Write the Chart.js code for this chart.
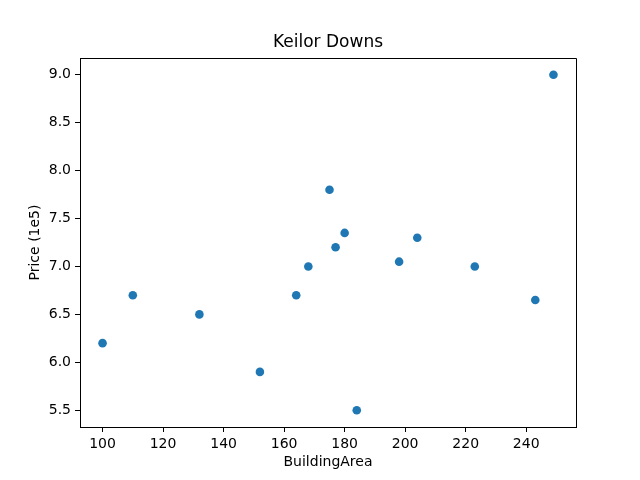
<!DOCTYPE html>
<html>
<head>
<meta charset="utf-8">
<script src="https://cdn.jsdelivr.net/npm/chart.js@4"></script>
<style>
  html, body { margin: 0; padding: 0; background: #fff; }
  #wrap { width: 640px; height: 480px; }
</style>
</head>
<body>
<div id="wrap"><canvas id="chart" width="640" height="480"></canvas></div>
<script>
// data
const buildingArea = [100, 110, 132, 152, 164, 168, 175, 177, 180, 184, 198, 204, 223, 243, 249];
const price = [6.2, 6.7, 6.5, 5.9, 6.7, 7.0, 7.8, 7.2, 7.35, 5.5, 7.05, 7.3, 7.0, 6.65, 9.0];
const xTicks = [100, 120, 140, 160, 180, 200, 220, 240];
const yTicks = [5.5, 6.0, 6.5, 7.0, 7.5, 8.0, 8.5, 9.0];
const chartTitle = 'Keilor Downs';

const points = buildingArea.map(function(a, i) { return {x: a, y: price[i]}; });

// box around the plot area (matplotlib spines) and a title centred over the plot
const frame = {
    id: 'frame',
    afterDraw: function(chart) {
        const a = chart.chartArea;
        const ctx = chart.ctx;
        const l = Math.floor(a.left) + 0.5, r = Math.floor(a.right) + 0.5;
        const t = Math.floor(a.top) + 0.5, b = Math.floor(a.bottom) + 0.5;
        ctx.save();
        ctx.strokeStyle = '#000';
        ctx.lineWidth = 1;
        ctx.beginPath();
        ctx.moveTo(l, t);
        ctx.lineTo(r, t);
        ctx.lineTo(r, b);
        ctx.lineTo(l, b);
        ctx.closePath();
        ctx.stroke();
        ctx.fillStyle = '#000';
        ctx.font = '17px "DejaVu Sans"';
        ctx.textAlign = 'center';
        ctx.textBaseline = 'middle';
        ctx.fillText(chartTitle, (a.left + a.right) / 2, 43);
        ctx.restore();
    }
};

const font = {family: 'DejaVu Sans', size: 14};

new Chart(document.getElementById('chart'), {
    type: 'scatter',
    plugins: [frame],
    data: {
        datasets: [{
            data: points,
            backgroundColor: '#1f77b4',
            borderColor: '#1f77b4',
            pointRadius: 4.3,
            pointHoverRadius: 4.3,
            borderWidth: 0
        }]
    },
    options: {
        responsive: false,
        animation: false,
        layout: {
            padding: {left: 0, right: 64, top: 58, bottom: 0}
        },
        plugins: {
            legend: { display: false },
            tooltip: { enabled: false },
            title: { display: false }
        },
        scales: {
            x: {
                type: 'linear',
                min: 92.55,
                max: 256.45,
                afterBuildTicks: function(scale) {
                    scale.ticks = xTicks.map(function(v) { return {value: v}; });
                },
                afterFit: function(scale) { scale.height = 53; },
                grid: {
                    drawOnChartArea: false,
                    drawTicks: true,
                    tickLength: 5,
                    color: '#000'
                },
                border: { display: true, color: '#000' },
                ticks: { color: '#000', font: font, padding: 4, maxRotation: 0 },
                title: {
                    display: true,
                    text: 'BuildingArea',
                    color: '#000',
                    font: font,
                    padding: {top: 0, bottom: 9.6}
                }
            },
            y: {
                type: 'linear',
                min: 5.325,
                max: 9.175,
                afterBuildTicks: function(scale) {
                    scale.ticks = yTicks.map(function(v) { return {value: v}; });
                },
                afterFit: function(scale) { scale.width = 80; },
                grid: {
                    drawOnChartArea: false,
                    drawTicks: true,
                    tickLength: 5,
                    color: '#000'
                },
                border: { display: true, color: '#000' },
                ticks: {
                    color: '#000',
                    font: font,
                    padding: 4,
                    callback: function(v) { return v.toFixed(1); }
                },
                title: {
                    display: true,
                    text: 'Price (1e5)',
                    color: '#000',
                    font: font,
                    padding: {top: 26.6, bottom: 0}
                }
            }
        }
    }
});
</script>
</body>
</html>
